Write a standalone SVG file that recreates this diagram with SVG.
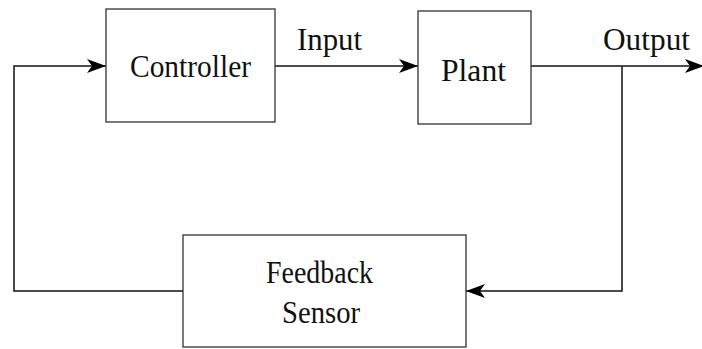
<svg xmlns="http://www.w3.org/2000/svg" width="702" height="349" viewBox="0 0 702 349">
<style>
.box{fill:#fff;stroke:#333;stroke-width:1.3}
.lbl{font-family:"Liberation Serif","Times New Roman",serif;font-size:31px;fill:#111}
.wire{fill:none;stroke:#111;stroke-width:1.5}
</style>
<defs>
<marker id="ah" markerUnits="userSpaceOnUse" markerWidth="24" markerHeight="20" viewBox="-20 -10 24 20" refX="0" refY="0" orient="auto">
<path d="M0,0 L-19,-7 L-14,0 L-19,7 Z" fill="#000"/>
</marker>
</defs>
<g id="connectors">
<path class="wire" d="M275,66 H418" marker-end="url(#ah)"/>
<path class="wire" d="M531,66 H704" marker-end="url(#ah)"/>
<path class="wire" d="M622,66 V291 H466" marker-end="url(#ah)"/>
<path class="wire" d="M183,291 H14 V66 H106" marker-end="url(#ah)"/>
<text class="lbl" x="297" y="50" textLength="65" lengthAdjust="spacingAndGlyphs">Input</text>
<text class="lbl" x="603" y="50" textLength="87" lengthAdjust="spacingAndGlyphs">Output</text>
</g>
<g id="controller">
<rect class="box" x="106" y="9" width="169" height="113"/>
<text class="lbl" x="130" y="77" textLength="121" lengthAdjust="spacingAndGlyphs">Controller</text>
</g>
<g id="plant">
<rect class="box" x="418" y="11" width="113" height="113"/>
<text class="lbl" x="441" y="81" textLength="65" lengthAdjust="spacingAndGlyphs">Plant</text>
</g>
<g id="feedback">
<rect class="box" x="183" y="235" width="283" height="112"/>
<text class="lbl" x="266" y="283" textLength="107" lengthAdjust="spacingAndGlyphs">Feedback</text>
<text class="lbl" x="282" y="323" textLength="78" lengthAdjust="spacingAndGlyphs">Sensor</text>
</g>
</svg>
